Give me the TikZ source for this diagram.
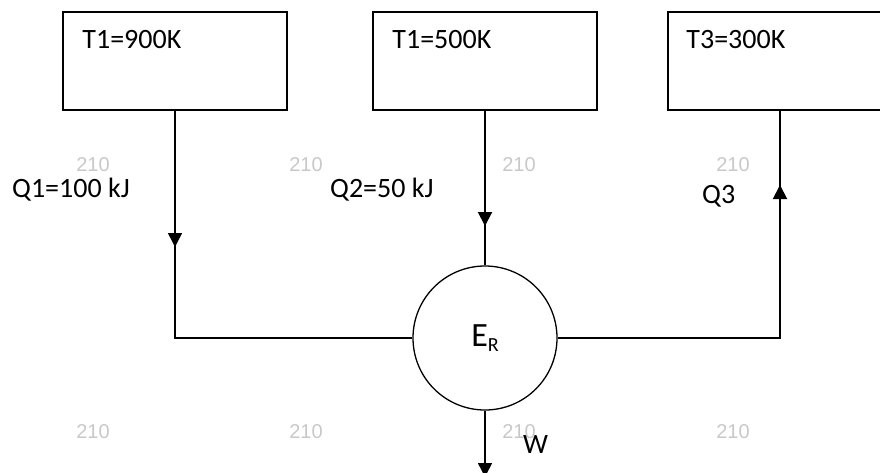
\documentclass[tikz,border=0pt]{standalone}
\usepackage{fontspec}
\setmainfont{Carlito}
\newfontfamily\wmfont{Liberation Sans}
\usepackage{tikz}
\usetikzlibrary{arrows.meta,positioning}
\definecolor{ink}{RGB}{0,0,0}
\definecolor{faint}{RGB}{200,200,200}

\begin{document}
\begin{tikzpicture}[x=1pt,y=-1pt,font=\fontsize{28}{32}\selectfont,
  res/.style={draw=ink,line width=1.5pt,minimum width=224pt,minimum height=98pt,inner sep=0pt},
  eng/.style={draw=ink,circle,line width=1.3pt,minimum size=144pt,inner sep=0pt},
  tl/.style={anchor=base west,inner sep=0pt,text=ink},
  wm/.style={font=\wmfont\fontsize{20}{24}\selectfont,text=faint,inner sep=0pt},
  w/.style={draw=ink,line width=1.3pt},
  a/.style={-{Triangle[width=14pt,length=14pt]},line width=2pt,color=ink}]
  \clip (0,0) rectangle (880,472);
  % watermark numbers
  \foreach \x in {93,306,519,733} \foreach \y in {165,432} \node[wm] (wm-\x-\y) at (\x,\y) {210};
  % reservoirs and engine
  \node[res] (hot) at (175,61) {};
  \node[res] (mid) at (485,61) {};
  \node[res] (cold) at (780,61) {};
  \node[tl] (thot) at ([xshift=20pt,yshift=-37pt]hot.north west) {T1=900K};
  \node[tl] (tmid) at ([xshift=20pt,yshift=-37pt]mid.north west) {T1=500K};
  \node[tl] (tcold) at ([xshift=19pt,yshift=-37pt]cold.north west) {T3=300K};
  \node[eng] (er) at (485,338) {\fontsize{34}{36}\selectfont E\raisebox{-5pt}{\fontsize{20}{20}\selectfont R}};
  \node[tl] (q1) at (12,197) {Q1=100 kJ};
  \node[tl] (q2) at (330,197) {Q2=50 kJ};
  \node[tl] (q3) at (702,203) {Q3};
  \node[tl] (wout) at (523,453) {W};
  % connectors
  \draw[w] (hot.south) |- (er.west);
  \draw[w] (mid.south) -- (er.north);
  \draw[w] (er.east) -| (cold.south);
  \coordinate (q1s) at (175,205); \coordinate (q1e) at (175,247);
  \coordinate (q2s) at (485,159); \coordinate (q2e) at (485,226);
  \coordinate (q3s) at (780,240); \coordinate (q3e) at (780,185);
  \coordinate (wtip) at (485,477);
  \draw[a,line width=1.5pt] (q1s) -- (q1e);
  \foreach \i/\j in {q2s/q2e,q3s/q3e} \draw[a] (\i) -- (\j);
  \draw[a,line width=1.5pt] (er.south) -- (wtip);
\end{tikzpicture}
\end{document}
